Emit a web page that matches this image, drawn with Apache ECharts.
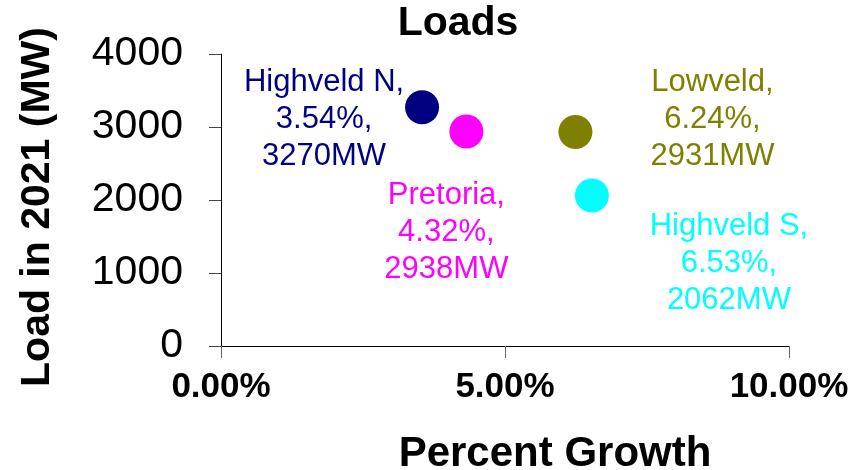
<!DOCTYPE html>
<html>
<head>
<meta charset="utf-8">
<script src="https://cdn.jsdelivr.net/npm/echarts@6/dist/echarts.min.js"></script>
<style>
  html, body { margin: 0; padding: 0; background: #fff; }
  #chart { width: 867px; height: 470px; }
</style>
</head>
<body>
<div id="chart"></div>
<script>
// Regional load forecast: growth rate vs. load in 2021
const regions = ['Highveld N', 'Pretoria', 'Lowveld', 'Highveld S'];
const growthPct = [3.54, 4.32, 6.24, 6.53];
const load2021 = [3270, 2938, 2931, 2062];
const colors = ['#000080', '#ff00ff', '#808000', '#00ffff'];
const labelOffsets = [[-98, 12], [-20, 101], [137, -13], [137, 68]];
const xTicks = [0, 5, 10];
const yTicks = [0, 1000, 2000, 3000, 4000];

const FONT = '"Liberation Sans", Arial, sans-serif';

const series = regions.map((name, i) => ({
  name: name,
  type: 'scatter',
  symbol: 'circle',
  symbolSize: 34,
  itemStyle: { color: colors[i], opacity: 1 },
  data: [[growthPct[i], load2021[i]]],
  label: {
    show: true,
    position: 'inside',
    offset: labelOffsets[i],
    align: 'center',
    verticalAlign: 'middle',
    color: colors[i],
    opacity: 1,
    fontFamily: FONT,
    fontSize: 31,
    lineHeight: 37,
    formatter: () => name + ',\n' + growthPct[i].toFixed(2) + '%,\n' + load2021[i] + 'MW'
  },
  emphasis: { disabled: true }
}));

const chart = echarts.init(document.getElementById('chart'), null, { renderer: 'canvas' });
chart.setOption({
  animation: false,
  backgroundColor: '#ffffff',
  title: {
    text: 'Loads',
    left: 453,
    textAlign: 'center',
    top: -2,
    textStyle: { fontFamily: FONT, fontSize: 41, fontWeight: 'bold', color: '#000' }
  },
  grid: { left: 221, right: 78, top: 54, bottom: 124, containLabel: false, outerBoundsMode: 'none' },
  xAxis: {
    type: 'value',
    min: xTicks[0],
    max: xTicks[xTicks.length - 1],
    interval: 5,
    name: 'Percent Growth',
    nameLocation: 'middle',
    nameGap: 87,
    nameTextStyle: { fontFamily: FONT, fontSize: 42, fontWeight: 'bold', color: '#000', padding: [0, 0, 0, 100] },
    axisLine: { show: true, lineStyle: { color: '#000', width: 1 } },
    axisTick: { show: true, inside: false, length: 12, lineStyle: { color: '#666' } },
    axisLabel: {
      margin: 24,
      fontFamily: FONT, fontSize: 35, fontWeight: 'bold', color: '#000',
      formatter: v => v.toFixed(2) + '%'
    },
    splitLine: { show: false }
  },
  yAxis: {
    type: 'value',
    min: yTicks[0],
    max: yTicks[yTicks.length - 1],
    interval: 1000,
    name: 'Load in 2021 (MW)',
    nameLocation: 'middle',
    nameGap: 163,
    nameTextStyle: { fontFamily: FONT, fontSize: 41, fontWeight: 'bold', color: '#000', padding: [0, 14, 0, 0] },
    axisLine: { show: true, lineStyle: { color: '#000', width: 1 } },
    axisTick: { show: true, inside: false, length: 12, lineStyle: { color: '#444' } },
    axisLabel: { margin: 38, fontFamily: FONT, fontSize: 41, color: '#000', formatter: v => String(v) },
    splitLine: { show: false }
  },
  series: series
});
</script>
</body>
</html>
